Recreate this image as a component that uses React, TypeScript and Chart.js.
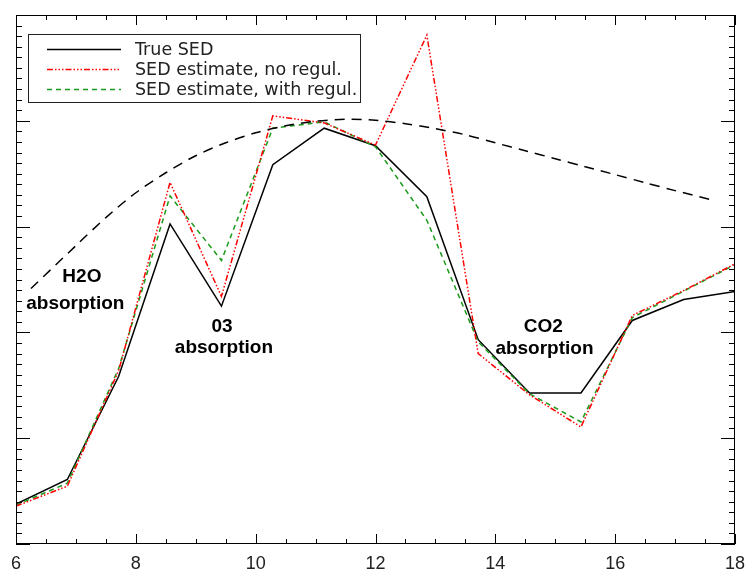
import React, { useEffect, useRef } from "react";
import { Chart, registerables } from "chart.js";
Chart.register(...registerables);

// Wavelength samples of the SED
const sampleX = [6, 6.857, 7.714, 8.571, 9.429, 10.286, 11.143, 12, 12.857, 13.714, 14.571, 15.429, 16.286, 17.143, 18];
const trueSED = [0.377, 0.61, 1.585, 3.025, 2.248, 3.585, 3.93, 3.764, 3.283, 1.931, 1.428, 1.428, 2.113, 2.311, 2.387];
const estNoRegul = [0.358, 0.547, 1.64, 3.418, 2.34, 4.047, 3.98, 3.77, 4.81, 1.8, 1.41, 1.106, 2.16, 2.396, 2.648];
const estWithRegul = [0.368, 0.575, 1.66, 3.29, 2.68, 3.93, 3.99, 3.755, 3.06, 1.91, 1.42, 1.154, 2.14, 2.39, 2.64];

// Smooth dashed envelope
const envelopeX = [6.25, 7, 7.5, 8, 8.5, 9, 9.5, 10, 10.5, 11, 11.5, 12, 12.5, 13, 13.5, 14, 14.5, 15, 15.5, 16, 16.5, 17, 17.6];
const envelopeY = [2.415, 2.82, 3.085, 3.32, 3.509, 3.67, 3.792, 3.887, 3.953, 3.995, 4.014, 4.005, 3.972, 3.925, 3.868, 3.792, 3.717, 3.642, 3.566, 3.491, 3.415, 3.34, 3.255];

const legendLabels = ["True SED", "SED estimate, no regul.", "SED estimate, with regul."];

const annotTexts = ["H2O", "absorption", "03", "absorption", "CO2", "absorption"];
const annotX = [7.1, 6.99, 9.44, 9.47, 14.8, 14.82];
const annotY = [2.48, 2.217, 2.0, 1.81, 2.0, 1.8];

const xMin = 6, xMax = 18, xMajorStep = 2, xMinorStep = 0.5;
const yMin = 0, yMax = 5, yMajorStep = 1, yMinorStep = 0.1;

const redDash = [6, 2, 1.5, 2, 1.5, 2, 1.5, 2];
const greenDash = [5, 4];
const envDash = [10, 7];

const toPts = (xs: number[], ys: number[]) => xs.map((x, i) => ({ x, y: ys[i] }));

const framePlugin = {
  id: "frameTicks",
  afterDraw(chart: any) {
    const { ctx, chartArea: a, scales } = chart;
    const xs = scales.x, ys = scales.y;
    ctx.save();
    ctx.strokeStyle = "#000";
    ctx.lineWidth = 1;
    ctx.setLineDash([]);
    ctx.strokeRect(a.left + 0.5, a.top + 0.5, a.right - a.left - 1, a.bottom - a.top - 1);
    ctx.beginPath();
    const nx = Math.round((xMax - xMin) / xMinorStep);
    for (let i = 0; i <= nx; i++) {
      const v = xMin + i * xMinorStep;
      const major = Math.abs(v / xMajorStep - Math.round(v / xMajorStep)) < 1e-6;
      const len = major ? 10 : 5;
      const px = Math.round(xs.getPixelForValue(v)) + 0.5;
      ctx.moveTo(px, a.bottom);
      ctx.lineTo(px, a.bottom - len);
      ctx.moveTo(px, a.top);
      ctx.lineTo(px, a.top + len);
    }
    const ny = Math.round((yMax - yMin) / yMinorStep);
    for (let i = 0; i <= ny; i++) {
      const v = yMin + i * yMinorStep;
      const major = Math.abs(v / yMajorStep - Math.round(v / yMajorStep)) < 1e-6;
      const len = major ? 14 : 6;
      const py = Math.round(ys.getPixelForValue(v)) + 0.5;
      ctx.moveTo(a.left, py);
      ctx.lineTo(a.left + len, py);
      ctx.moveTo(a.right, py);
      ctx.lineTo(a.right - len, py);
    }
    ctx.stroke();

    // x tick labels from the library's tick list
    ctx.fillStyle = "#222";
    ctx.font = "18px 'Liberation Sans', Arial, sans-serif";
    ctx.textAlign = "center";
    ctx.textBaseline = "alphabetic";
    xs.ticks.forEach((t: any) => {
      ctx.fillText(String(t.value), xs.getPixelForValue(t.value), a.bottom + 25);
    });

    // annotations
    ctx.fillStyle = "#000";
    ctx.font = "bold 19px 'Liberation Sans', Arial, sans-serif";
    annotTexts.forEach((t, i) => {
      ctx.fillText(t, xs.getPixelForValue(annotX[i]), ys.getPixelForValue(annotY[i]));
    });

    // legend box
    const bx = 28.5, by = 34.5, bw = 332, bh = 68;
    ctx.fillStyle = "#fff";
    ctx.fillRect(bx, by, bw, bh);
    ctx.strokeStyle = "#222";
    ctx.lineWidth = 1;
    ctx.strokeRect(bx, by, bw, bh);
    const styles = [
      { color: "#000", dash: [] as number[] },
      { color: "#ff0000", dash: redDash },
      { color: "#1a9a1a", dash: greenDash },
    ];
    ctx.font = "17.5px 'DejaVu Sans', sans-serif";
    ctx.textAlign = "left";
    ctx.textBaseline = "middle";
    legendLabels.forEach((lab, i) => {
      const y = 49.5 + i * 20;
      ctx.beginPath();
      ctx.strokeStyle = styles[i].color;
      ctx.lineWidth = 1.5;
      ctx.setLineDash(styles[i].dash);
      ctx.moveTo(47, y);
      ctx.lineTo(121, y);
      ctx.stroke();
      ctx.setLineDash([]);
      ctx.fillStyle = "#222";
      ctx.fillText(lab, 135, y + 1);
    });
    ctx.restore();
  },
};

export default function App() {
  const ref = useRef<HTMLCanvasElement | null>(null);
  useEffect(() => {
    if (!ref.current) return;
    const chart = new Chart(ref.current, {
      type: "line",
      data: {
        datasets: [
          {
            label: "envelope",
            data: toPts(envelopeX, envelopeY),
            borderColor: "#000",
            borderWidth: 1.5,
            borderDash: envDash,
            pointRadius: 0,
            tension: 0.3,
            fill: false,
          },
          {
            label: legendLabels[1],
            data: toPts(sampleX, estNoRegul),
            borderColor: "#ff0000",
            borderWidth: 1.5,
            borderDash: redDash,
            pointRadius: 0,
            tension: 0,
            fill: false,
          },
          {
            label: legendLabels[2],
            data: toPts(sampleX, estWithRegul),
            borderColor: "#1a9a1a",
            borderWidth: 1.5,
            borderDash: greenDash,
            pointRadius: 0,
            tension: 0,
            fill: false,
          },
          {
            label: legendLabels[0],
            data: toPts(sampleX, trueSED),
            borderColor: "#000",
            borderWidth: 1.5,
            pointRadius: 0,
            tension: 0,
            fill: false,
          },
        ],
      },
      options: {
        animation: false,
        responsive: false,
        maintainAspectRatio: false,
        layout: { padding: { left: 16, right: 13, top: 15, bottom: 26 } },
        plugins: { legend: { display: false }, tooltip: { enabled: false } },
        scales: {
          x: {
            type: "linear",
            min: xMin,
            max: xMax,
            display: false,
            ticks: { stepSize: xMajorStep },
          },
          y: {
            type: "linear",
            min: yMin,
            max: yMax,
            display: false,
          },
        },
      },
      plugins: [framePlugin],
    });
    return () => chart.destroy();
  }, []);
  return (
    <div style={{ position: "fixed", left: 0, top: 0, width: 748, height: 570, background: "#fff" }}>
      <canvas ref={ref} width={748} height={570} style={{ display: "block", width: 748, height: 570 }} />
    </div>
  );
}
